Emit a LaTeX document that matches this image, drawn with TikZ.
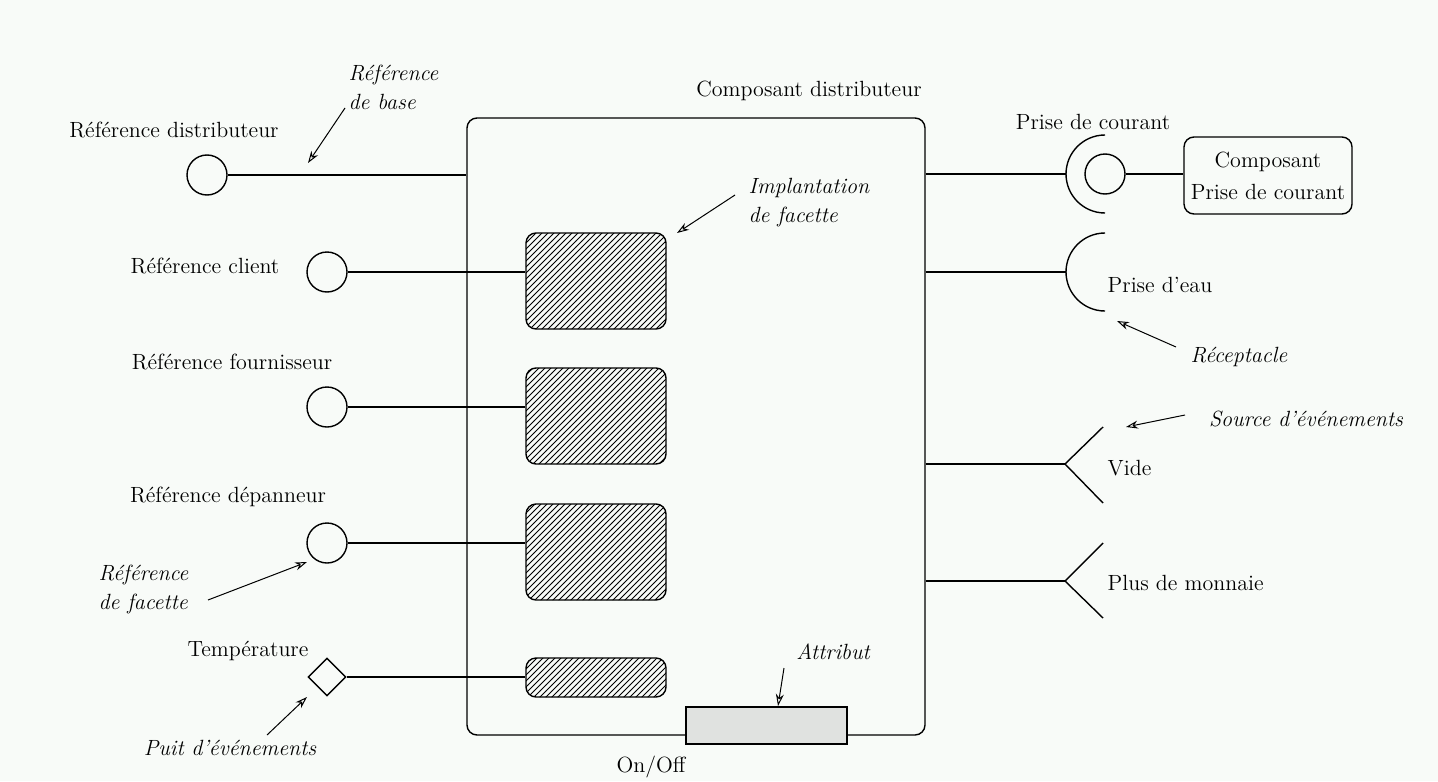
\documentclass[tikz,border=0pt]{standalone}
\usepackage{tikz}
\usetikzlibrary{arrows.meta}
\usetikzlibrary{patterns}
\usetikzlibrary{shapes.geometric}

\definecolor{paper}{RGB}{248,251,248}
\definecolor{attrgray}{RGB}{224,226,224}

\begin{document}
\begin{tikzpicture}[x=0.5pt,y=-0.5pt,line width=0.7pt,
  lbl/.style={font=\fontsize{11}{13}\selectfont,inner sep=1pt},
  note/.style={font=\fontsize{11}{14.5}\selectfont\itshape,align=left,inner sep=1pt},
  port/.style={draw,circle,minimum size=20pt,inner sep=0pt},
  sinkport/.style={draw,diamond,minimum size=19pt,inner sep=0pt},
  facet/.style={draw,rounded corners=5pt,pattern=north east lines,minimum width=70pt,minimum height=48pt,inner sep=0pt},
  pointer/.style={line width=0.5pt,-{Stealth[open,length=6pt,width=4pt]}}]
\useasboundingbox (0,0) rectangle (1438,781);
\fill[paper] (0,0) rectangle (1438,781);

% composant distributeur
\node[draw,rounded corners=5pt,minimum width=229pt,minimum height=308.5pt,inner sep=0pt] (distrib) at (696,426.5) {};
\node[lbl] (tDistrib) at (809,91) {Composant distributeur};

% facettes
\node[facet] (facClient) at (596,281) {};
\node[facet] (facFour) at (596,416) {};
\node[facet] (facDep) at (596,552) {};
\node[facet,minimum height=19.5pt] (facTemp) at (596,677.5) {};

% references (gauche)
\node[port] (refDist) at (207,175) {};
\node[port] (refClient) at (327,272) {};
\node[port] (refFour) at (327,407) {};
\node[port] (refDep) at (327,543) {};
\node[sinkport] (puitTemp) at (327,677) {};
\draw (refDist) -- (refDist -| distrib.west);
\draw (refClient) -- (refClient -| facClient.west);
\draw (refFour) -- (refFour -| facFour.west);
\draw (refDep) -- (refDep -| facDep.west);
\draw (puitTemp) -- (puitTemp -| facTemp.west);
\node[lbl] (tRefDist) at (174,130) {Référence distributeur};
\node[lbl] (tRefClient) at (205,266) {Référence client};
\node[lbl] (tRefFour) at (232,362) {Référence fournisseur};
\node[lbl] (tRefDep) at (228,497) {Référence dépanneur};
\node[lbl] (tTemp) at (248,651) {Température};

% attribut
\node[draw,fill=attrgray,minimum width=80.5pt,minimum height=18.5pt,inner sep=0pt] (attr) at (766.5,725.5) {};
\node[lbl] (tOnOff) at (651,767) {On/Off};

% receptacles (droite)
\coordinate (sockCourant) at (1066,174);
\coordinate (sockEau) at (1066,272);
\draw (distrib.east |- sockCourant) -- (sockCourant);
\draw ([shift={(39,-39)}]sockCourant) arc[start angle=270,end angle=90,radius=39];
\draw (distrib.east |- sockEau) -- (sockEau);
\draw ([shift={(39,-39)}]sockEau) arc[start angle=270,end angle=90,radius=39];
\node[port] (plug) at (1105,174) {};
\node[draw,rounded corners=5pt,minimum width=84pt,minimum height=38.5pt,align=center,font=\fontsize{11}{16}\selectfont] (compPrise) at (1268,175.5) {Composant\\Prise de courant};
\draw (plug) -- (plug -| compPrise.west);
\node[lbl] (tPrise) at (1093,122) {Prise de courant};
\node[lbl,anchor=west] (tEau) at (1105,285) {Prise d'eau};

% sources d'evenements
\coordinate (srcVide) at (1065,464);
\coordinate (srcPlus) at (1065,581);
\draw (distrib.east |- srcVide) -- (srcVide);
\draw ([shift={(38,-37)}]srcVide) -- (srcVide) -- ([shift={(38,39)}]srcVide);
\draw (distrib.east |- srcPlus) -- (srcPlus);
\draw ([shift={(38,-38)}]srcPlus) -- (srcPlus) -- ([shift={(38,37)}]srcPlus);
\node[lbl,anchor=west] (tVide) at (1105,468) {Vide};
\node[lbl,anchor=west] (tPlus) at (1105,583) {Plus de monnaie};

% annotations
\node[note,anchor=west] (nBase) at (346,87.5) {Référence\\de base};
\node[note,anchor=west] (nImpl) at (746,202.5) {Implantation\\de facette};
\node[note,anchor=west] (nRefFac) at (96,589) {Référence\\de facette};
\node[note] (nPuit) at (230,748) {Puit d'événements};
\node[note] (nAttr) at (833,652) {Attribut};
\node[note,anchor=west] (nRecep) at (1188,357) {Réceptacle};
\node[note] (nSource) at (1306,419) {Source d'événements};
\coordinate (fromBase) at (345,108);
\coordinate (toBase) at (308,163);
\coordinate (fromImpl) at (735,195);
\coordinate (toImpl) at (677,233);
\coordinate (fromRefFac) at (208,600);
\coordinate (toRefFac) at (307,562);
\coordinate (fromPuit) at (267,735);
\coordinate (toPuit) at (307,697);
\coordinate (fromAttr) at (784,668);
\coordinate (toAttr) at (778,706);
\coordinate (fromRecep) at (1176,347);
\coordinate (toRecep) at (1117,321);
\coordinate (fromSource) at (1185,415);
\coordinate (toSource) at (1126,427);
\draw[pointer] (fromBase) -- (toBase);
\draw[pointer] (fromImpl) -- (toImpl);
\draw[pointer] (fromRefFac) -- (toRefFac);
\draw[pointer] (fromPuit) -- (toPuit);
\draw[pointer] (fromAttr) -- (toAttr);
\draw[pointer] (fromRecep) -- (toRecep);
\draw[pointer] (fromSource) -- (toSource);
\end{tikzpicture}
\end{document}
